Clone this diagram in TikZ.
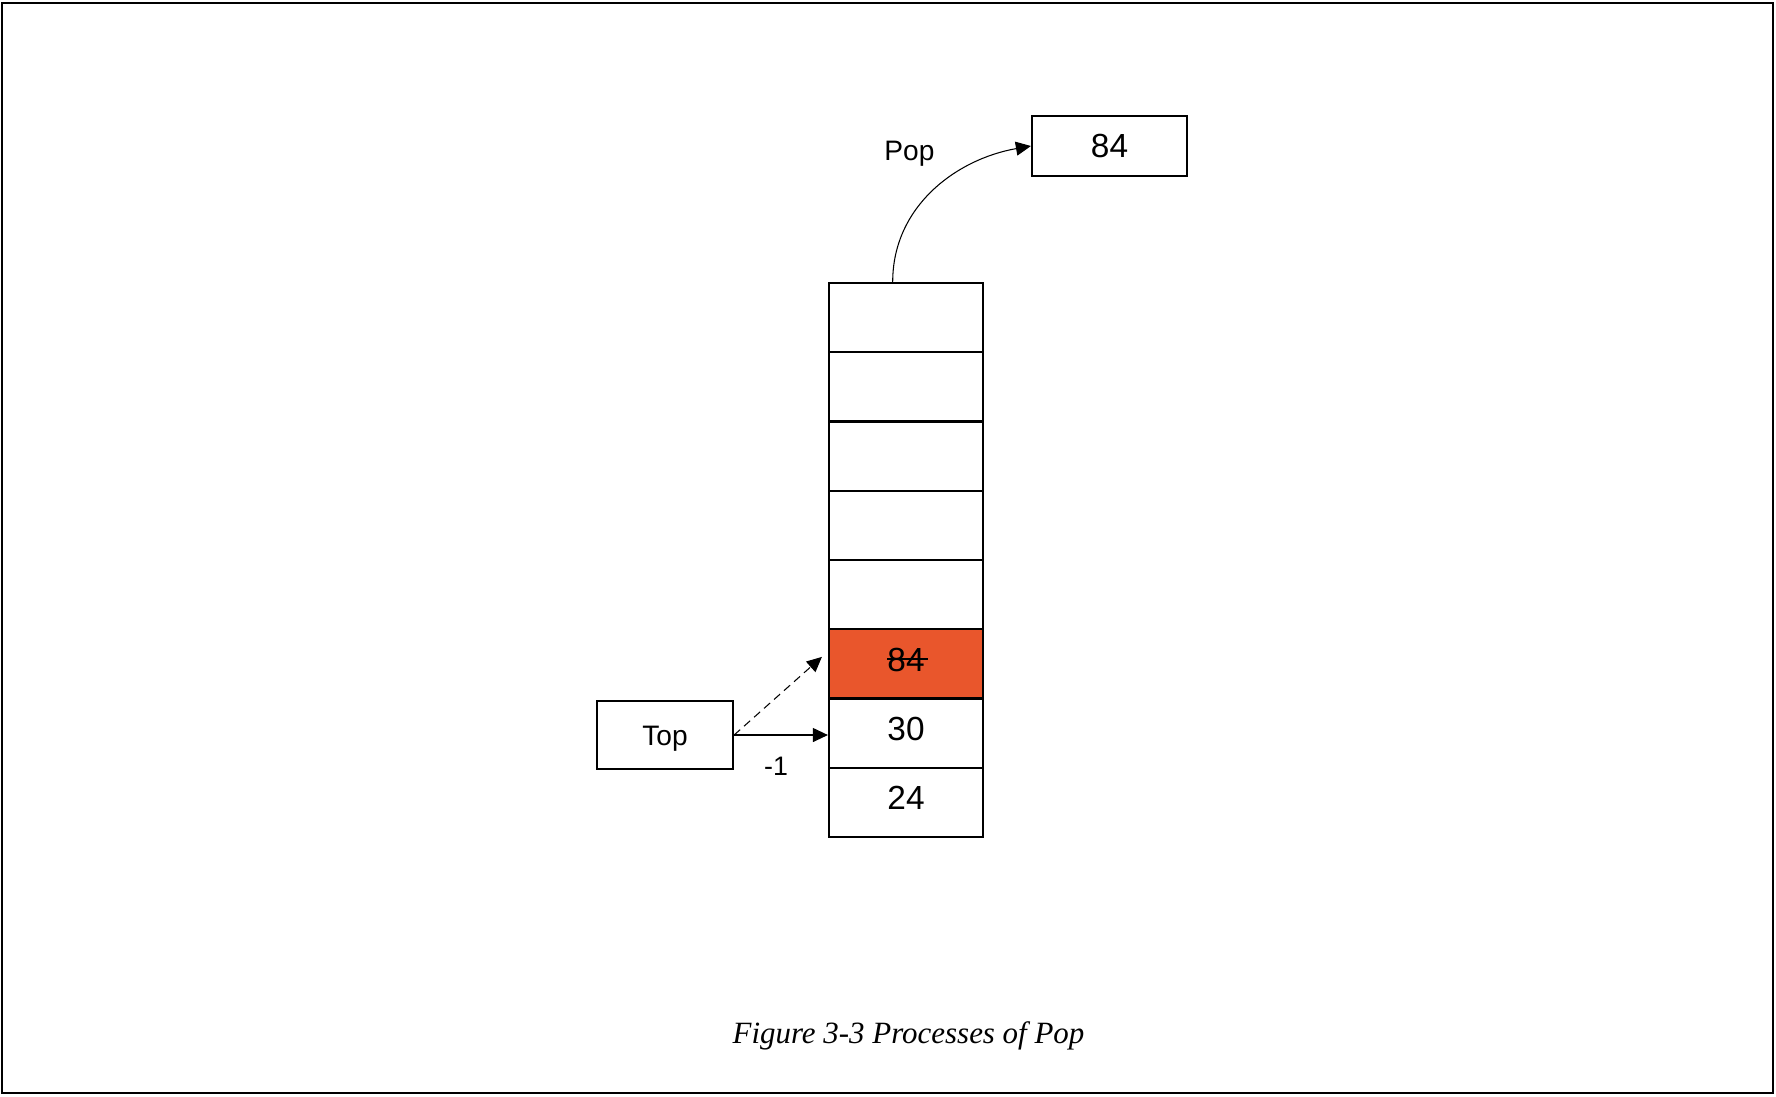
\documentclass[tikz,border=0pt]{standalone}
\usepackage{fontspec}
\setmainfont{Liberation Sans}
\newfontfamily\captionfont{Liberation Serif}
\usetikzlibrary{arrows.meta}

\definecolor{popred}{RGB}{233,86,44}

% strike a line through a value
\newcommand{\struckvalue}[1]{\setbox0=\hbox{#1}%
  \rlap{\rule[3.05pt]{\dimexpr\wd0+1.1pt\relax}{0.55pt}}\box0}

\begin{document}
\begin{tikzpicture}[x = 0.01cm, y = -0.01cm, line width = 0.6pt,
    cell/.style = {draw, minimum width = 1.54cm, minimum height = 0.6925cm,
      inner sep = 0, font = \fontsize{9.5}{11}\selectfont,
      text height = 6.8pt, text depth = 2.7pt},
    box/.style = {draw, inner sep = 0, text depth = 0pt},
    label/.style = {inner sep = 0, text depth = 0pt},
    tip/.style = {-{Triangle[length = 0.15cm, width = 0.14cm]}, line width = 0.3pt}]
    \useasboundingbox (0, 0) rectangle (1776, 1096);

    % frame
    \draw (2, 3) rectangle (1773, 1093);

    % stack, empty cells first
    \foreach \i in {0,...,4}
        \node [cell] (cell\i) at (906, {317.6 + 69.25*\i}) {};
    \node [cell, fill = popred] (cell5) at (906, 663.9) {\struckvalue{84}};
    \node [cell] (cell6) at (906, 733.1) {30};
    \node [cell] (cell7) at (906, 802.4) {24};

    % popped value
    \node [box, minimum width = 1.55cm, minimum height = 0.6cm,
        font = \fontsize{9.5}{11}\selectfont, text height = 6.8pt] (popped) at (1109.5, 146) {84};

    % top pointer
    \node [box, minimum width = 1.36cm, minimum height = 0.68cm,
        font = \fontsize{8}{10}\selectfont, text height = 5.73pt] (top) at (665, 735) {Top};

    % labels
    \node [label, font = \fontsize{8}{10}\selectfont, text height = 5.73pt] (poplabel) at (909.5, 150.3) {Pop};
    \node [label, font = \fontsize{7.6}{9}\selectfont, text height = 5.44pt] (minusone) at (776, 765.5) {-1};

    % pop the top value out
    \draw [tip] ([xshift = -0.133cm] cell0.north) to [out = 90, in = 190] (popped.west);

    % top moves down by one
    \draw [tip, dash pattern = on 2.3pt off 1.5pt] (top.east) -- ([xshift = -0.06cm, yshift = 0.07cm] cell5.west);
    \draw [tip] (top.east) -- (top.east -| cell6.west);

    % caption
    \node [label, anchor = base, font = \captionfont\itshape\fontsize{8.8}{10}\selectfont] (caption)
        at (908.5, 1043) {Figure 3-3 Processes of Pop};
\end{tikzpicture}
\end{document}
